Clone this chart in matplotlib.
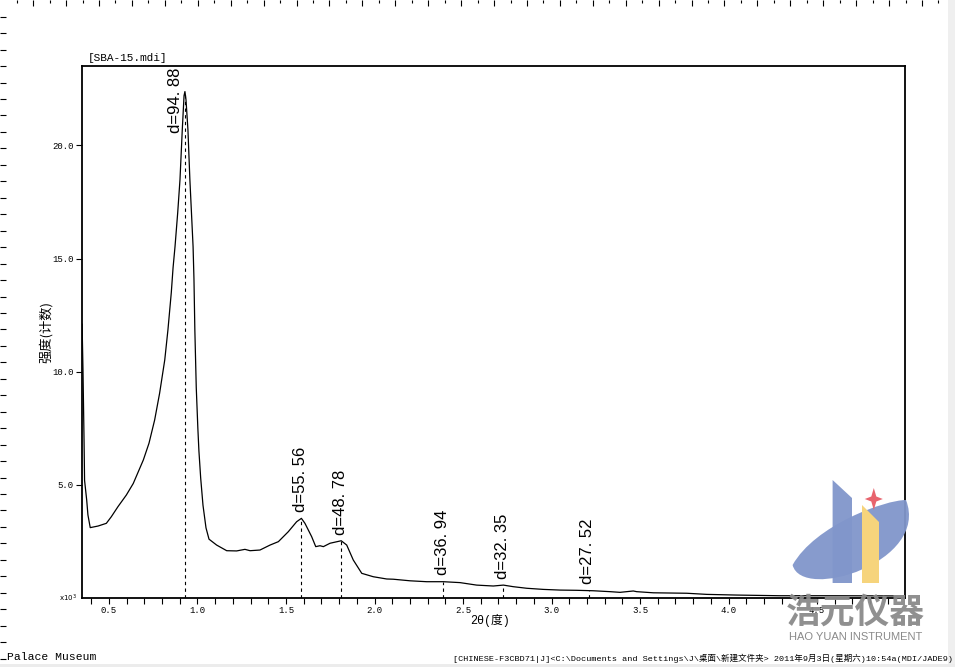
import numpy as np
import matplotlib
matplotlib.use('Agg')
import matplotlib.pyplot as plt
from matplotlib.patches import Polygon, PathPatch
from matplotlib.path import Path
from matplotlib.ticker import MultipleLocator

# XRD pattern (2theta in degrees, intensity in 10^3 counts)
two_theta = [0.348, 0.353, 0.359, 0.362, 0.374, 0.381, 0.394, 0.438, 0.485, 0.513,
             0.551, 0.598, 0.637, 0.694, 0.726, 0.758, 0.786, 0.815, 0.833, 0.852,
             0.862, 0.873, 0.888, 0.901, 0.914, 0.924, 0.929, 0.935, 0.946, 0.957,
             0.966, 0.975, 0.980, 0.985, 0.993, 1.002, 1.008, 1.018, 1.031, 1.048,
             1.065, 1.108, 1.165, 1.221, 1.268, 1.297, 1.353, 1.410, 1.457, 1.513,
             1.560, 1.587, 1.607, 1.645, 1.668, 1.692, 1.711, 1.749, 1.812, 1.843,
             1.880, 1.928, 1.993, 2.069, 2.106, 2.201, 2.295, 2.389, 2.483, 2.577,
             2.671, 2.728, 2.784, 2.860, 2.954, 3.048, 3.142, 3.236, 3.331, 3.387,
             3.462, 3.481, 3.575, 3.764, 3.877, 4.046, 4.291, 4.600, 4.990]
intensity = [12.1, 10.1, 7.0, 5.2, 4.33, 3.67, 3.11, 3.18, 3.30, 3.59,
             4.04, 4.55, 5.06, 6.1, 6.84, 7.87, 9.05, 10.52, 11.85, 13.5,
             14.6, 15.53, 17.01, 18.48, 20.69, 22.2, 22.38, 22.02, 20.69, 18.48,
             17.01, 15.53, 14.1, 11.85, 9.3, 7.5, 6.5, 5.3, 4.1, 3.1,
             2.6, 2.34, 2.09, 2.08, 2.15, 2.09, 2.12, 2.34, 2.49, 2.93,
             3.37, 3.52, 3.30, 2.71, 2.27, 2.31, 2.27, 2.42, 2.53, 2.34,
             1.68, 1.09, 0.94, 0.84, 0.83, 0.76, 0.72, 0.72, 0.68, 0.57,
             0.53, 0.57, 0.50, 0.43, 0.38, 0.35, 0.34, 0.32, 0.28, 0.25,
             0.31, 0.28, 0.23, 0.21, 0.16, 0.13, 0.10, 0.10, 0.09]

peak_pos = [0.929, 1.587, 1.811, 2.389, 2.728, 3.210]
peak_labels = ['d=94. 88', 'd=55. 56', 'd=48. 78', 'd=36. 94', 'd=32. 35', 'd=27. 52']

mono = ['Liberation Mono', 'Noto Sans CJK SC']
cjk = ['Noto Sans CJK SC', 'DejaVu Sans']

fig = plt.figure(figsize=(9.55, 6.67), dpi=100)
ax = fig.add_axes([82/955, 69/667, 823/955, 532/667])

ax.plot(two_theta, intensity, color='black', lw=0.9)
for pos, lab in zip(peak_pos, peak_labels):
    top = np.interp(pos, two_theta, intensity)
    ax.vlines(pos, 0, top, colors='black', linestyles=(0, (3, 3)), lw=0.8)
    if pos == peak_pos[0]:
        ax.annotate(lab, xy=(pos, 1.0), xycoords=('data', 'axes fraction'),
                    xytext=(-7, -1.5), textcoords='offset points', rotation=90,
                    ha='center', va='top', fontsize=12, family='Liberation Sans')
    else:
        ax.annotate(lab, xy=(pos, top), xytext=(-0.5, 4.5), textcoords='offset points',
                    rotation=90, ha='center', va='bottom', fontsize=12,
                    family='Liberation Sans')

ax.set_xlim(0.3475, 4.997)
ax.set_ylim(0, 23.51)
ax.xaxis.set_minor_locator(MultipleLocator(0.1))
ax.set_yticks([5, 10, 15, 20])
ax.set_yticklabels(['5.0', '10.0', '15.0', '20.0'])
ax.set_xticks([0.5, 1.0, 1.5, 2.0, 2.5, 3.0, 3.5, 4.0, 4.5])
ax.set_xticklabels(['0.5', '1.0', '1.5', '2.0', '2.5', '3.0', '3.5', '4.0', '4.5'])
ax.tick_params(which='both', direction='out', length=4, width=0.8, labelsize=6.5, pad=2)
for t in ax.get_xticklabels() + ax.get_yticklabels():
    t.set_family(mono)
for s in ax.spines.values():
    s.set_linewidth(1.3)

ax.set_ylabel('强度(计数)', family=cjk, fontsize=9.5)
ax.yaxis.set_label_coords(-0.036, 0.5)
ax.set_xlabel('2θ(度)', family=mono, fontsize=8.5)
ax.xaxis.set_label_coords(0.496, -0.03)
ax.text(0.007, 1.006, '[SBA-15.mdi]', transform=ax.transAxes, va='bottom',
        fontsize=8, family=mono)
ax.text(-0.006, 0, 'x10$^3$', transform=ax.transAxes, ha='right', va='center', fontsize=5)

# page decoration in pixel coordinates, drawn on top
deco = fig.add_axes([0, 0, 1, 1], zorder=5)
deco.set_xlim(0, 955)
deco.set_ylim(667, 0)
deco.axis('off')
deco.patch.set_alpha(0)

rx = np.arange(16.7, 950, 16.46)
deco.vlines(rx, 0, np.where(np.arange(len(rx)) % 2, 6, 3), colors='black', lw=0.8)
ry = np.arange(16.7, 660, 16.46)
deco.hlines(ry, 0, 6, colors='black', lw=0.8)
deco.add_patch(plt.Rectangle((948, 0), 7, 667, color='#efefef', lw=0))
deco.add_patch(plt.Rectangle((0, 664), 955, 3, color='#ececec', lw=0))

deco.text(7, 657, 'Palace Museum', va='center', fontsize=8.2, family=mono)
footer = r'[CHINESE-F3CBD71|J]<C:\Documents and Settings\J\桌面\新建文件夹> 2011年9月3日(星期六)10:54a(MDI/JADE9)'
deco.text(953, 658, footer, ha='right', va='center', fontsize=6.1, family=mono)

# watermark logo
blue = '#8196cb'
swoosh = Path([(792.6, 565), (802, 602), (930, 562), (906, 500),
               (885, 500), (815, 525), (792.6, 565), (792.6, 565)],
              [Path.MOVETO, Path.CURVE4, Path.CURVE4, Path.CURVE4,
               Path.CURVE4, Path.CURVE4, Path.CURVE4, Path.CLOSEPOLY])
deco.add_patch(PathPatch(swoosh, color=blue, lw=0, alpha=0.95))
deco.add_patch(Polygon([(832.6, 480), (852, 498), (852, 583), (832.6, 583)], color=blue, lw=0, alpha=0.95))
deco.add_patch(Polygon([(862, 505), (879, 522), (879, 583), (862, 583)], color='#f6d47c', lw=0))
cx, cy = 873.8, 499
star = [(cx, cy - 11), (cx + 2.5, cy - 2.5), (cx + 9, cy), (cx + 2.5, cy + 2.5),
        (cx, cy + 11), (cx - 2.5, cy + 2.5), (cx - 9, cy), (cx - 2.5, cy - 2.5)]
deco.add_patch(Polygon(star, color='#e8646e', lw=0))
deco.text(855, 612, '浩元仪器', ha='center', va='center', fontsize=25, fontweight='bold',
          color='#8a8a8a', alpha=0.95, family=cjk)
deco.text(856, 637.5, 'HAO YUAN INSTRUMENT', ha='center', va='center', fontsize=8,
          color='#8a8a8a', family='Liberation Sans')

fig.savefig('out.png', dpi=100)
